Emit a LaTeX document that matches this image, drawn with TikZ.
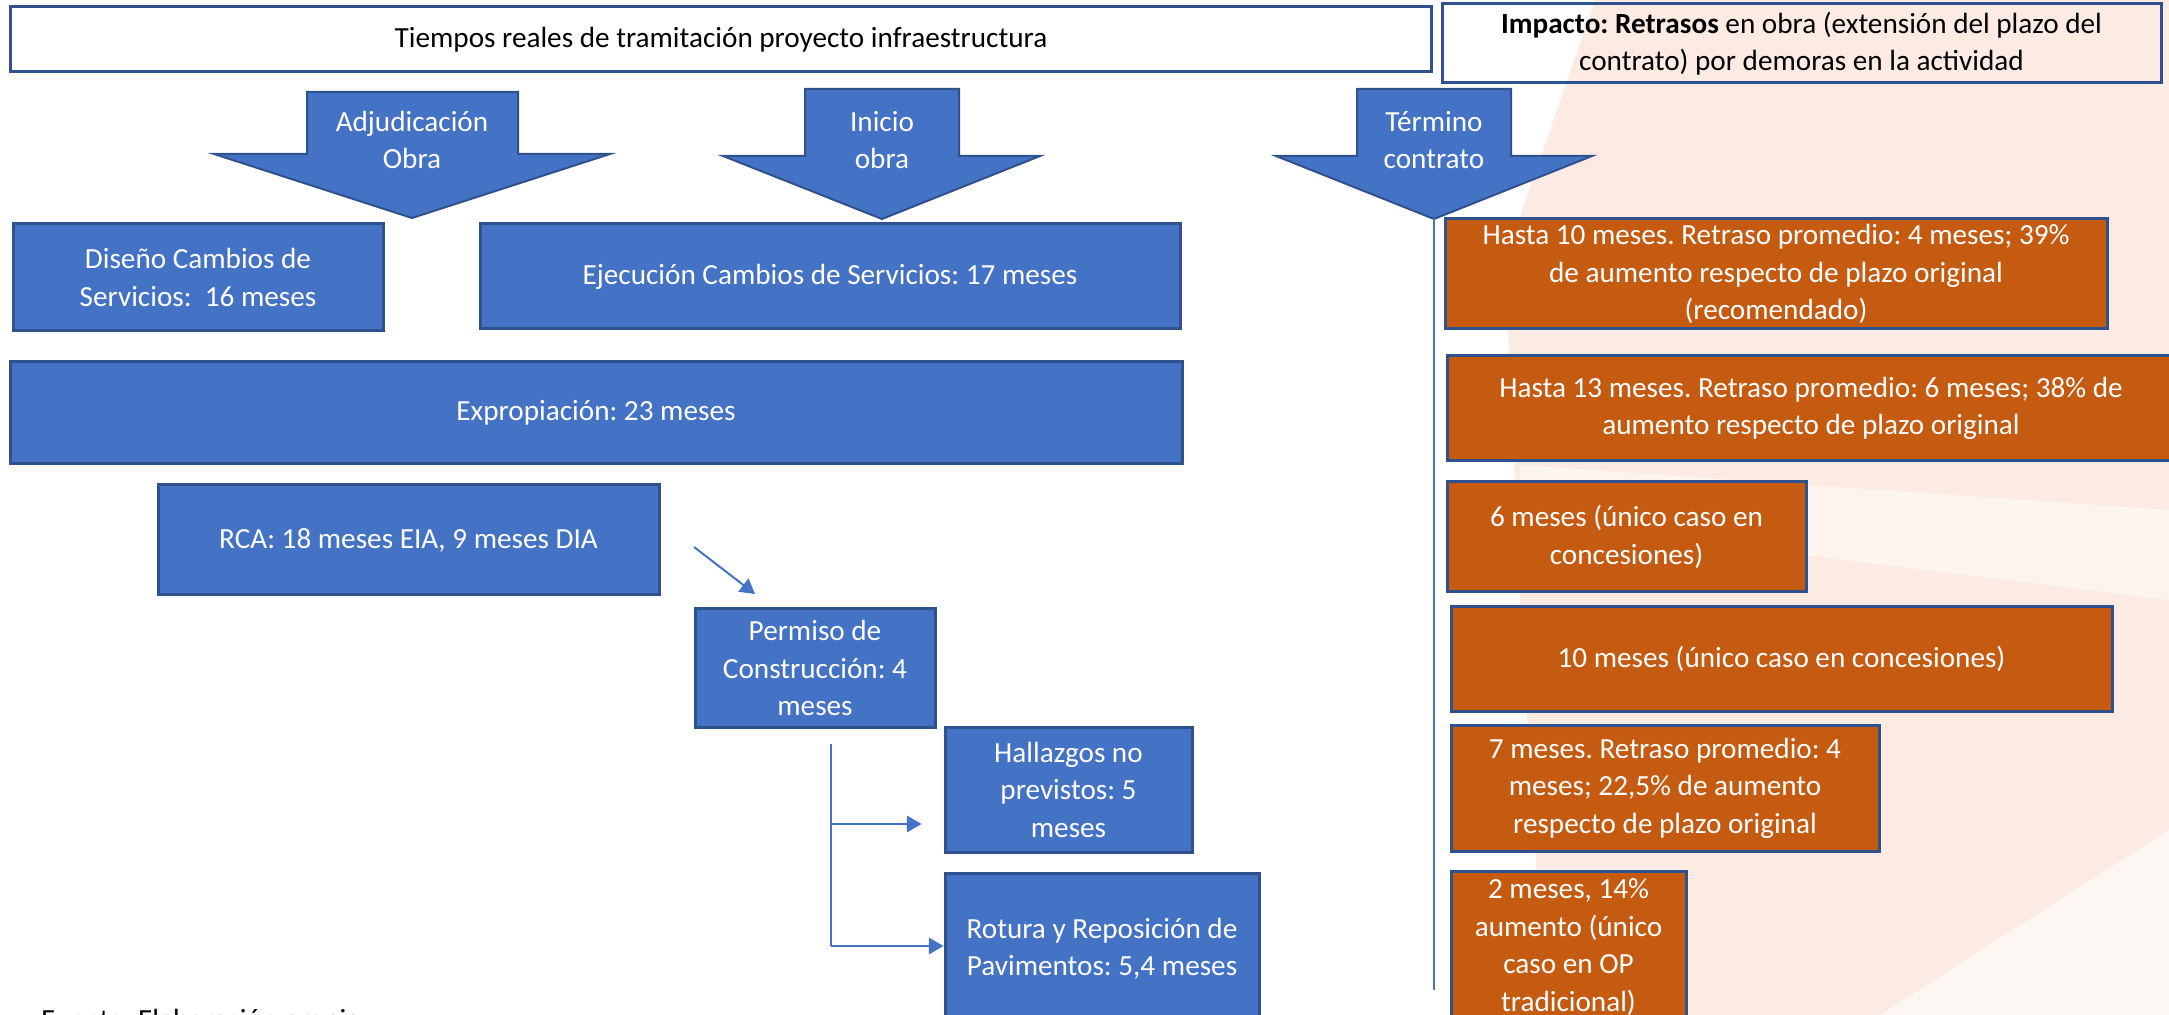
\documentclass[tikz,border=0pt]{standalone}
\usepackage{fontspec}
\setmainfont{Carlito}
\usepackage{tikz}
\usetikzlibrary{arrows}
\usetikzlibrary{positioning}
\frenchspacing

\definecolor{azul}{HTML}{4472C4}
\definecolor{borde}{HTML}{2F528F}
\definecolor{naranja}{HTML}{C55A11}
\definecolor{durazno}{HTML}{FCEBE3}
\definecolor{duraznoclaro}{HTML}{FDF4EE}

\newcommand{\textosz}{\fontsize{14.6pt}{18.75pt}\selectfont}

\tikzset{
  caja/.style={draw=borde, line width=1.5pt, align=center, inner sep=0pt, font=\textosz},
  cajaazul/.style={caja, fill=azul, text=white},
  cajanaranja/.style={caja, fill=naranja, text=white},
  cajablanca/.style={caja, text=black},
  flecha/.style={fill=azul, draw=borde, line width=1pt},
  conector/.style={draw=azul, line width=1pt, -triangle 60},
}

\begin{document}
\begin{tikzpicture}[x=0.5pt,y=-0.5pt]

  \useasboundingbox (0,0) rectangle (2169,1015);
  \clip (0,0) rectangle (2169,1015);

  % fondo (marca de agua)
  \fill[durazno] (1595,0) -- (2169,0) -- (2169,1015) -- (1545,1015) -- (1520,600) -- (1505,260) -- cycle;
  \fill[duraznoclaro] (1520,465) -- (2169,510) -- (2169,600) -- (1520,520) -- cycle;
  \fill[white,opacity=0.6] (2169,830) -- (2169,1015) -- (1880,1015) -- cycle;

  % titulos
  \node[cajablanca, minimum width=710.75pt, minimum height=32.5pt] (titulo) at (721,39.5)
    {Tiempos reales de tramitación proyecto infraestructura};
  \node[cajablanca, minimum width=359.5pt, minimum height=39.5pt] (impacto) at (1801.5,43.5)
    {\textbf{Impacto: Retrasos} en obra (extensión del plazo del\\contrato) por demoras en la actividad};

  % flechas de hitos
  \draw[flecha] (307,92) -- (518,92) -- (518,154) -- (610,154) -- (412,218) -- (214,154) -- (307,154) -- cycle;
  \node[text=white, align=center, font=\textosz] (adjudicacion) at (412,140) {Adjudicación\\Obra};

  \draw[flecha] (805,89) -- (959,89) -- (959,156) -- (1040,156) -- (882,219) -- (723,156) -- (805,156) -- cycle;
  \node[text=white, align=center, font=\textosz] (inicio) at (882,140) {Inicio\\obra};

  \draw[flecha] (1357,89) -- (1511,89) -- (1511,156) -- (1592,156) -- (1434,219) -- (1276,156) -- (1357,156) -- cycle;
  \node[text=white, align=center, font=\textosz] (termino) at (1434,140) {Término\\contrato};

  \coordinate (terminotip) at (1434,219);
  \coordinate (terminofin) at (1434,990);
  \draw[azul, line width=0.75pt] (terminotip) -- (terminofin);

  % actividades
  \node[cajaazul, minimum width=185pt, minimum height=53.5pt] (diseno) at (198,277.5)
    {Diseño Cambios de\\Servicios:~ 16 meses};
  \node[cajaazul, minimum width=350pt, minimum height=52.5pt] (ejecucion) at (830,276.5)
    {Ejecución Cambios de Servicios: 17 meses};
  \node[cajaazul, minimum width=586pt, minimum height=51pt] (expropiacion) at (596,413)
    {Expropiación: 23 meses};
  \node[cajaazul, minimum width=250.5pt, minimum height=55pt] (rca) at (408.5,540)
    {RCA: 18 meses EIA, 9 meses DIA};
  \node[cajaazul, minimum width=120pt, minimum height=59pt] (permiso) at (815,668)
    {Permiso de\\Construcción: 4\\meses};
  \node[cajaazul, minimum width=123.5pt, minimum height=62.5pt] (hallazgos) at (1068.5,789.5)
    {Hallazgos no\\previstos: 5\\meses};
  \node[cajaazul, minimum width=157pt, minimum height=75.5pt] (rotura) at (1102,948.5)
    {Rotura y Reposición de\\Pavimentos: 5,4 meses};

  % conectores
  \coordinate (rcasal) at (694,547);
  \coordinate (permisoent) at (755,594);
  \draw[conector] (rcasal) -- (permisoent);

  \coordinate (ramaini) at (831,744);
  \coordinate (ramamed) at (831,824);
  \coordinate (ramafin) at (831,946);
  \draw[azul, line width=1pt] (ramaini) -- (ramafin);
  \draw[conector, shorten >=11pt] (ramamed) -- (ramamed -| hallazgos.west);
  \draw[conector] (ramafin) -- (ramafin -| rotura.west);

  % impactos
  \node[cajanaranja, minimum width=331pt, minimum height=55pt] (imp1) at (1776,274)
    {Hasta 10 meses. Retraso promedio: 4 meses; 39\%\\de aumento respecto de plazo original\\(recomendado)};
  \node[cajanaranja, minimum width=364pt, minimum height=52.5pt] (imp2) at (1811,408.5)
    {Hasta 13 meses. Retraso promedio: 6 meses; 38\% de\\aumento respecto de plazo original};
  \node[cajanaranja, minimum width=179.5pt, minimum height=55pt] (imp3) at (1626.5,537)
    {6 meses (único caso en\\concesiones)};
  \node[cajanaranja, minimum width=330.5pt, minimum height=52pt] (imp4) at (1781.5,659)
    {10 meses (único caso en concesiones)};
  \node[cajanaranja, minimum width=214pt, minimum height=63pt] (imp5) at (1665,788)
    {7 meses. Retraso promedio: 4\\meses; 22,5\% de aumento\\respecto de plazo original};
  \node[cajanaranja, minimum width=117.5pt, minimum height=76pt] (imp6) at (1568.5,947)
    {2 meses, 14\%\\aumento (único\\caso en OP\\tradicional)};

  \node[anchor=base west, inner sep=0pt, font=\textosz] (fuente) at (41,1029) {Fuente: Elaboración propia};
\end{tikzpicture}
\end{document}
